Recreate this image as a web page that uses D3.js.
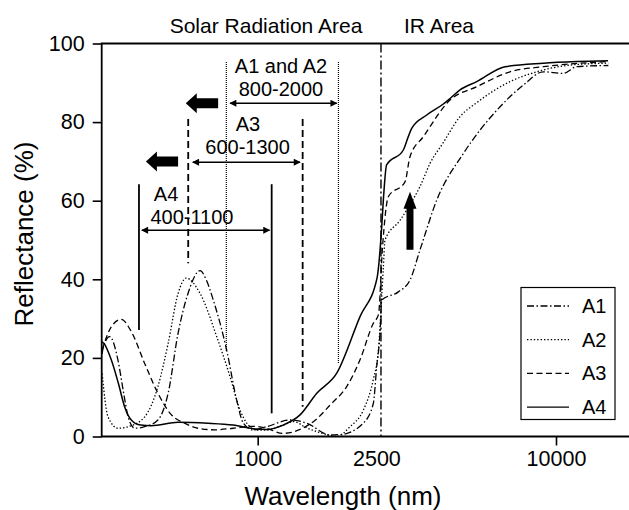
<!DOCTYPE html>
<html>
<head>
<meta charset="utf-8">
<script src="https://cdn.jsdelivr.net/npm/d3@7"></script>
<style>
  body { margin: 0; background: #fff; }
  svg { font-family: "Liberation Sans", Arial, sans-serif; }
</style>
</head>
<body>
<script>
// reflectance curves, [wavelength nm, reflectance %]
const a1 = [[301,21],[303,22.4],[319,25.4],[340,19.5],[354,11.8],[368,5],[387,2.1],[418,2.5],[463,4.2],[501,11],[541,26.3],[584,36.4],[641,42.2],[673,39.8],[710,34.7],[787,22],[850,9.3],[895,3.4],[967,1.65],[1072,2.5],[1284,4.2],[1460,3.4],[1748,0.4],[1900,0.5],[2260,3.4],[2441,8.4],[2506,17.8],[2571,26.3],[2605,34.7],[2961,36.8],[3240,39.8],[3501,47.5],[3985,60.2],[4891,72],[6330,83],[7770,89.4],[9069,92.8],[10584,92.4],[11739,94.1],[14980,94.4]];
const a2 = [[301,16],[315,5],[340,2.1],[368,2.5],[418,5],[463,12.7],[501,23.7],[541,36.4],[576,40.3],[641,36.4],[729,25.4],[808,15.2],[873,6.7],[919,3.4],[992,1.65],[1072,1.65],[1219,2.9],[1316,3.8],[1460,2.2],[1750,0.3],[1841,0],[2040,2.5],[2260,6.7],[2441,14.5],[2540,22],[2638,43],[2672,50],[3000,55],[3240,59],[3500,63.6],[3782,69.5],[4182,74.7],[4768,81.4],[5436,85],[7012,90.3],[8618,92.8],[11142,94.5],[14980,95]];
const a3 = [[301,22],[323,27.9],[349,29.8],[377,26.7],[418,18.6],[463,11],[514,5.5],[569,3.4],[631,2.1],[719,1.7],[827,2.1],[965,2.6],[1058,2.2],[1216,0.8],[1387,1.8],[1578,4.5],[1748,8],[1988,12.7],[2203,19.5],[2441,28.8],[2540,31],[2620,48],[2741,61],[3118,64.8],[3240,71.2],[3592,76.3],[4414,85.6],[5421,89],[7012,92.8],[9069,94.1],[14965,95.4]];
const a4 = [[301,24.1],[305,23.7],[323,19.5],[341,13.6],[358,7.6],[377,4.2],[405,2.9],[440,2.75],[541,3.6],[682,3.35],[827,2.9],[995,1.9],[1076,1.8],[1216,2.9],[1387,5.5],[1578,11],[1841,16.1],[2203,30.5],[2512,40.3],[2605,53.4],[2638,60.2],[2705,69.1],[3078,72.9],[3198,76.3],[3283,78.4],[3687,81.8],[4190,84.6],[4414,86],[4768,88.2],[5421,90.3],[6748,94.1],[9069,95],[11739,95.4],[14944,95.6]];

const seriesNames = ["A1", "A2", "A3", "A4"];
const xLabels = [1000, 2500, 10000];
const xMinor = [400, 500, 600, 700, 800, 900, 2000, 3000, 4000, 5000, 6000, 7000, 8000, 9000];
const yMajor = [0, 20, 40, 60, 80, 100];
const yMinor = [10, 30, 50, 70, 90];

// boundary solar / IR
const irBoundary = 2590;
// range markers: [low, high, top %, bottom low %, bottom high %]
const rangeA12 = [785, 1865, 95.3, 21.6, 18.7];
const rangeA3 = [585, 1415, 80.8, 44.1, 7.6];
const rangeA4 = [400, 1114, 64.2, 27.1, 5.9];
// double arrows: [from, to, level %]
const spanArrows = [[808, 1841, 84.8], [606, 1387, 69.8], [409, 1096, 52.5]];
// annotation texts: [text, wavelength, level %]
const notes = [["A1 and A2", 1197, 92.5], ["800-2000", 1197, 86.6], ["A3", 928, 77.7], ["600-1300", 925, 71.9], ["A4", 493, 59.9], ["400-1100", 602, 54.1]];
// shift arrows: [from wl, from %, to wl, to %]
const shiftArrows = [[737, 84.8, 574, 84.8], [541, 70, 422, 70], [3240, 47.5, 3240, 62.3]];

const width = 629, height = 510;
const x = d3.scaleLog().domain([300, 10000]).range([101.7, 556]);
const y = d3.scaleLinear().domain([0, 100]).range([436.5, 43.5]);

const svg = d3.select("body").append("svg")
  .attr("width", width).attr("height", height);

const dashes = { A1: "7,2.5,1.5,2.5", A2: "1.4,2", A3: "6,3.5", A4: null };
const curves = { A1: a1, A2: a2, A3: a3, A4: a4 };

// axes
const gx = svg.append("g").attr("transform", `translate(0,${y(0)})`);
gx.call(d3.axisBottom(x).tickValues(xMinor).tickSize(5).tickFormat(""));
gx.call(d3.axisBottom(x).tickValues(xLabels).tickSize(9).tickPadding(5).tickFormat(d => d));
gx.selectAll(".domain").remove();
gx.selectAll(".tick line").attr("stroke-width", 1.6).filter(d => d === 2500).remove();
gx.selectAll("text").attr("font-size", 21.5).attr("fill", "#000");

const gy = svg.append("g").attr("transform", `translate(${x(300)},0)`);
gy.call(d3.axisLeft(y).tickValues(yMinor).tickSize(5).tickFormat(""));
gy.call(d3.axisLeft(y).tickValues(yMajor).tickSize(9).tickPadding(8));
gy.selectAll(".domain").remove();
gy.selectAll(".tick line").attr("stroke-width", 1.6);
gy.selectAll("text").attr("font-size", 21.5).attr("fill", "#000");

// frame lines
svg.append("path")
  .attr("d", `M${width},${y(100)}H${x(300)}V${y(0)}H${width}`)
  .attr("fill", "none").attr("stroke", "#000").attr("stroke-width", 1.8);

svg.append("text").attr("x", 33).attr("y", 234)
  .attr("transform", "rotate(-90,33,234)").attr("text-anchor", "middle")
  .attr("font-size", 26).text("Reflectance (%)");
svg.append("text").attr("x", 343).attr("y", 505).attr("text-anchor", "middle")
  .attr("font-size", 26).text("Wavelength (nm)");
svg.append("text").attr("x", 266).attr("y", 33).attr("text-anchor", "middle")
  .attr("font-size", 21).text("Solar Radiation Area");
svg.append("text").attr("x", 439).attr("y", 33).attr("text-anchor", "middle")
  .attr("font-size", 21).text("IR Area");

// IR boundary
svg.append("line")
  .attr("x1", x(irBoundary)).attr("x2", x(irBoundary))
  .attr("y1", y(100)).attr("y2", y(0))
  .attr("stroke", "#000").attr("stroke-width", 1.4)
  .attr("stroke-dasharray", "9,3,2,3");

// range markers
const rangeStyles = [
  { r: rangeA12, dash: "1,1", w: 1.2 },
  { r: rangeA3, dash: "7,4", w: 1.8 },
  { r: rangeA4, dash: null, w: 1.8 }
];
rangeStyles.forEach(s => {
  const [lo, hi, top, b1, b2] = s.r;
  [[lo, b1], [hi, b2]].forEach(([wl, bot]) => {
    svg.append("line")
      .attr("x1", x(wl)).attr("x2", x(wl))
      .attr("y1", y(top)).attr("y2", y(bot))
      .attr("stroke", "#000").attr("stroke-width", s.w)
      .attr("stroke-dasharray", s.dash);
  });
});

// arrowhead markers
const defs = svg.append("defs");
defs.append("marker").attr("id", "head")
  .attr("viewBox", "0 0 10 10").attr("refX", 9).attr("refY", 5)
  .attr("markerWidth", 8).attr("markerHeight", 7)
  .attr("markerUnits", "userSpaceOnUse").attr("orient", "auto-start-reverse")
  .append("path").attr("d", "M0,0L10,5L0,10Z").attr("fill", "#000");

spanArrows.forEach(([f, t, lv]) => {
  svg.append("line")
    .attr("x1", x(f)).attr("x2", x(t))
    .attr("y1", y(lv)).attr("y2", y(lv))
    .attr("stroke", "#000").attr("stroke-width", 1.4)
    .attr("marker-start", "url(#head)").attr("marker-end", "url(#head)");
});

svg.append("g").selectAll("text").data(notes).join("text")
  .attr("x", d => x(d[1])).attr("y", d => y(d[2]))
  .attr("text-anchor", "middle").attr("font-size", 20)
  .text(d => d[0]);

// big filled arrows
const arrowShape = [
  { hl: 11, hw: 10, sw: 5 },
  { hl: 11, hw: 10, sw: 5 },
  { hl: 17, hw: 6.5, sw: 3.5 }
];
shiftArrows.forEach((a, i) => {
  const s = arrowShape[i];
  const x0 = x(a[0]), y0 = y(a[1]), x1 = x(a[2]), y1 = y(a[3]);
  const len = Math.hypot(x1 - x0, y1 - y0);
  const ux = (x1 - x0) / len, uy = (y1 - y0) / len;
  const nx = -uy, ny = ux;
  const bx = x1 - ux * s.hl, by = y1 - uy * s.hl;
  const pts = [
    [x0 + nx * s.sw, y0 + ny * s.sw],
    [bx + nx * s.sw, by + ny * s.sw],
    [bx + nx * s.hw, by + ny * s.hw],
    [x1, y1],
    [bx - nx * s.hw, by - ny * s.hw],
    [bx - nx * s.sw, by - ny * s.sw],
    [x0 - nx * s.sw, y0 - ny * s.sw]
  ];
  svg.append("path").attr("d", "M" + pts.join("L") + "Z").attr("fill", "#000");
});

// curves
const line = d3.line().x(d => x(d[0])).y(d => y(d[1])).curve(d3.curveMonotoneX);
seriesNames.forEach(n => {
  svg.append("path").datum(curves[n])
    .attr("d", line)
    .attr("fill", "none").attr("stroke", "#000")
    .attr("stroke-width", n === "A4" ? 1.5 : 1.3)
    .attr("stroke-dasharray", dashes[n]);
});

// legend
const lg = svg.append("g");
lg.append("rect").attr("x", 521).attr("y", 287.5).attr("width", 94).attr("height", 132)
  .attr("fill", "#fff").attr("stroke", "#000").attr("stroke-width", 1.2);
seriesNames.forEach((n, i) => {
  const cy = 306 + i * 33.7;
  lg.append("line").attr("x1", 527).attr("x2", 569).attr("y1", cy).attr("y2", cy)
    .attr("stroke", "#000").attr("stroke-width", 1.3).attr("stroke-dasharray", dashes[n]);
  lg.append("text").attr("x", 582).attr("y", cy + 7).attr("font-size", 20).text(n);
});
</script>
</body>
</html>
